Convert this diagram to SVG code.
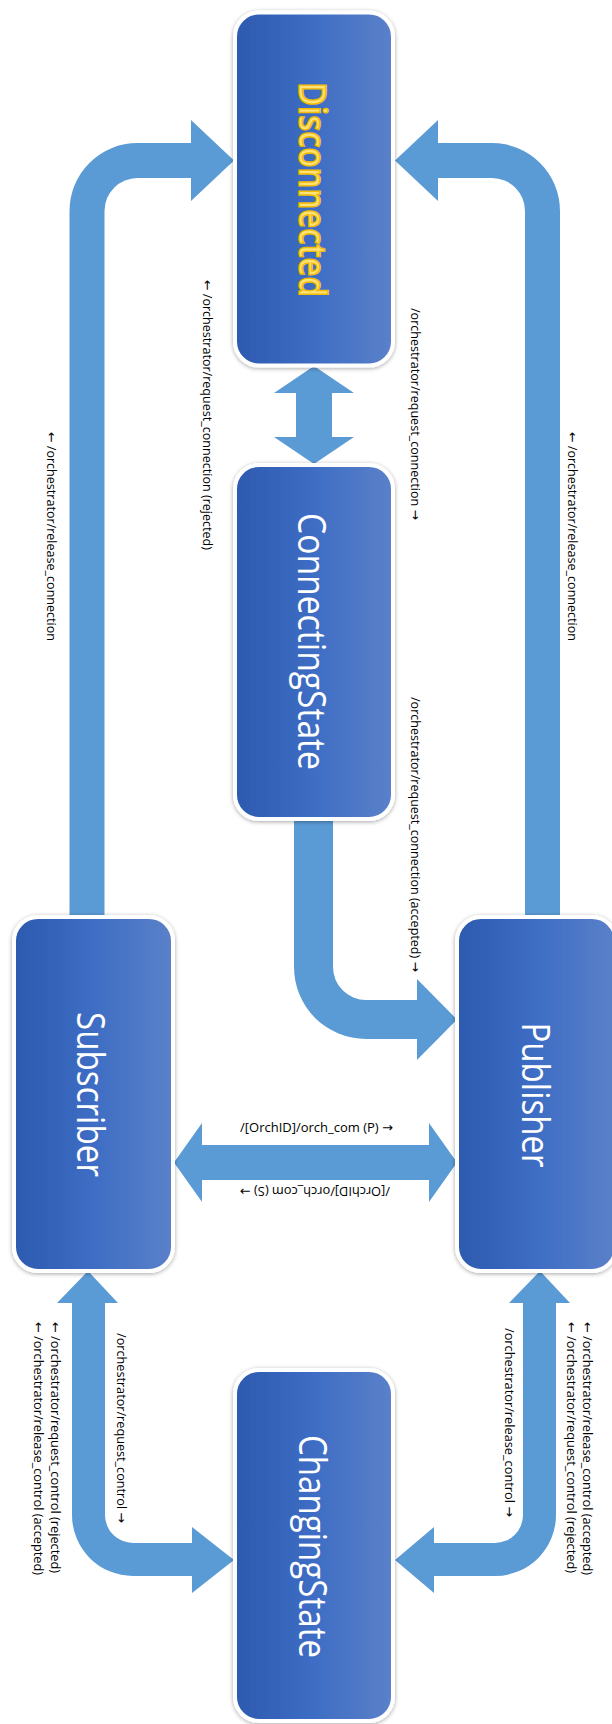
<svg xmlns="http://www.w3.org/2000/svg" width="612" height="1724" viewBox="0 0 612 1724">
<defs>
<linearGradient id="boxGrad" x1="0" y1="0" x2="1" y2="0">
<stop offset="0" stop-color="#2C5AAF"/>
<stop offset="0.5" stop-color="#3E6DC4"/>
<stop offset="1" stop-color="#5B81C9"/>
</linearGradient>
<filter id="shadow" x="-10%" y="-10%" width="120%" height="120%">
<feDropShadow dx="0" dy="1" stdDeviation="2" flood-color="#000" flood-opacity="0.35"/>
</filter>
</defs>
<style>
.box{fill:url(#boxGrad);stroke:#fff;stroke-width:4;filter:url(#shadow)}
.ntext{font-family:"Open Sans","Liberation Sans",sans-serif;font-size:38px;fill:#fff;text-anchor:middle;dominant-baseline:central}
.dtext{font-family:"Open Sans","Liberation Sans",sans-serif;font-size:38px;font-weight:600;fill:#FFE27A;stroke:#F2BC00;stroke-width:1.6;text-anchor:middle;dominant-baseline:central}
.conn{fill:#5B9BD5;stroke:none}
.lbl{font-family:"Open Sans","Liberation Sans","DejaVu Sans",sans-serif;font-size:13px;fill:#000;dominant-baseline:central}
.ar{font-family:"DejaVu Sans",sans-serif}
</style>
<rect width="612" height="1724" fill="#fff"/>
<g id="connectors">
<path class="conn" d="M 69.5 920 L 69.5 211 A 68 68 0 0 1 137.5 143 L 191 143 L 191 120 L 234 160.5 L 191 201 L 191 178 L 137.5 178 A 33 33 0 0 0 104.5 211 L 104.5 920 Z"/>
<path class="conn" d="M 560 920 L 560 211 A 68 68 0 0 0 492 143 L 438 143 L 438 120 L 395 160.5 L 438 201 L 438 178 L 492 178 A 33 33 0 0 1 525 211 L 525 920 Z"/>
<path class="conn" d="M 314 366 L 354 393 L 332 393 L 332 437 L 354 437 L 314 464 L 274 437 L 296 437 L 296 393 L 274 393 Z"/>
<path class="conn" d="M 294 815 L 294 967 A 72 72 0 0 0 366 1039 L 417 1039 L 417 1060 L 457 1019.5 L 417 979 L 417 1000 L 366 1000 A 33 33 0 0 1 333 967 L 333 815 Z"/>
<path class="conn" d="M 174 1162.5 L 202 1123 L 202 1145 L 429 1145 L 429 1123 L 457 1162.5 L 429 1202 L 429 1180 L 202 1180 L 202 1202 Z"/>
<path class="conn" d="M 88 1271 L 118 1303 L 105 1303 L 105 1515 A 28 28 0 0 0 133 1543 L 192 1543 L 192 1527 L 234 1560 L 192 1593 L 192 1576 L 133 1576 A 61 61 0 0 1 72 1515 L 72 1303 L 57 1303 Z"/>
<path class="conn" d="M 540 1271 L 570 1303 L 556 1303 L 556 1515 A 61 61 0 0 1 495 1576 L 434 1576 L 434 1593 L 395 1560 L 434 1527 L 434 1543 L 495 1543 A 28 28 0 0 0 523 1515 L 523 1303 L 509 1303 Z"/>
</g>
<g id="labels">
<text class="lbl" transform="translate(208,280) rotate(90)" textLength="270" lengthAdjust="spacingAndGlyphs"><tspan class="ar">←</tspan> /orchestrator/request_connection (rejected)</text>
<text class="lbl" transform="translate(416,308) rotate(90)" textLength="212" lengthAdjust="spacingAndGlyphs">/orchestrator/request_connection <tspan class="ar">→</tspan></text>
<text class="lbl" transform="translate(52,432) rotate(90)" textLength="209" lengthAdjust="spacingAndGlyphs"><tspan class="ar">←</tspan> /orchestrator/release_connection</text>
<text class="lbl" transform="translate(573,432) rotate(90)" textLength="209" lengthAdjust="spacingAndGlyphs"><tspan class="ar">←</tspan> /orchestrator/release_connection</text>
<text class="lbl" transform="translate(416,697) rotate(90)" textLength="275" lengthAdjust="spacingAndGlyphs">/orchestrator/request_connection (accepted) <tspan class="ar">→</tspan></text>
<text class="lbl" transform="translate(122,1333) rotate(90)" textLength="190" lengthAdjust="spacingAndGlyphs">/orchestrator/request_control <tspan class="ar">→</tspan></text>
<text class="lbl" transform="translate(56,1322) rotate(90)" textLength="251" lengthAdjust="spacingAndGlyphs"><tspan class="ar">←</tspan> /orchestrator/request_control (rejected)</text>
<text class="lbl" transform="translate(39,1322) rotate(90)" textLength="253" lengthAdjust="spacingAndGlyphs"><tspan class="ar">←</tspan> /orchestrator/release_control (accepted)</text>
<text class="lbl" transform="translate(510,1328) rotate(90)" textLength="189" lengthAdjust="spacingAndGlyphs">/orchestrator/release_control <tspan class="ar">→</tspan></text>
<text class="lbl" transform="translate(588,1322) rotate(90)" textLength="253" lengthAdjust="spacingAndGlyphs"><tspan class="ar">←</tspan> /orchestrator/release_control (accepted)</text>
<text class="lbl" transform="translate(572,1322) rotate(90)" textLength="251" lengthAdjust="spacingAndGlyphs"><tspan class="ar">←</tspan> /orchestrator/request_control (rejected)</text>
<text class="lbl" x="240" y="1127" textLength="153" lengthAdjust="spacingAndGlyphs">/[OrchID]/orch_com (P) <tspan class="ar">→</tspan></text>
<text class="lbl" transform="translate(390,1192) rotate(180)" textLength="150" lengthAdjust="spacingAndGlyphs">/[OrchID]/orch_com (S) <tspan class="ar">→</tspan></text>
</g>
<g id="node-disconnected">
<rect class="box" x="235" y="12.5" width="158" height="353" rx="24"/>
<text class="dtext" transform="translate(314,189.5) rotate(90)" textLength="215" lengthAdjust="spacingAndGlyphs">Disconnected</text>
</g>
<g id="node-connectingstate">
<rect class="box" x="235" y="465" width="158" height="354" rx="24"/>
<text class="ntext" transform="translate(313,641.5) rotate(90)" textLength="257" lengthAdjust="spacingAndGlyphs">ConnectingState</text>
</g>
<g id="node-subscriber">
<rect class="box" x="14" y="917" width="159" height="354" rx="24"/>
<text class="ntext" transform="translate(92,1094.5) rotate(90)" textLength="165" lengthAdjust="spacingAndGlyphs">Subscriber</text>
</g>
<g id="node-publisher">
<rect class="box" x="457" y="917" width="159" height="354" rx="24"/>
<text class="ntext" transform="translate(536.5,1095) rotate(90)" textLength="145" lengthAdjust="spacingAndGlyphs">Publisher</text>
</g>
<g id="node-changingstate">
<rect class="box" x="235" y="1370" width="158" height="351" rx="24"/>
<text class="ntext" transform="translate(313.5,1546.5) rotate(90)" textLength="223" lengthAdjust="spacingAndGlyphs">ChangingState</text>
</g>
</svg>
